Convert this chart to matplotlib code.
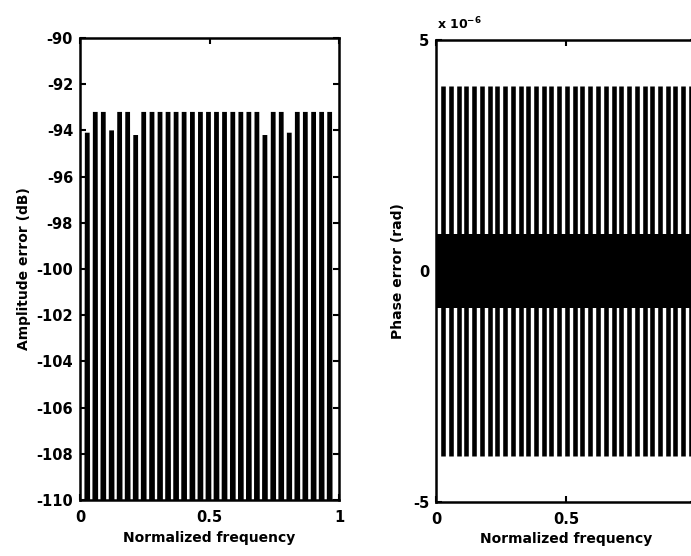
import matplotlib
matplotlib.use("Agg")
import matplotlib.pyplot as plt

plt.rcParams["font.family"] = ["DejaVu Sans"]
plt.rcParams["font.weight"] = "bold"
plt.rcParams["axes.unicode_minus"] = False

# Amplitude error: ripple lobes (centre frequency, peak level in dB)
amp_freq = [0.028, 0.059, 0.090, 0.122, 0.153, 0.184, 0.215, 0.246, 0.278,
            0.309, 0.340, 0.371, 0.402, 0.434, 0.465, 0.496, 0.527, 0.558,
            0.590, 0.621, 0.652, 0.683, 0.714, 0.746, 0.777, 0.808, 0.839,
            0.870, 0.902, 0.933, 0.964]
amp_peak = [-94.1, -93.2, -93.2, -94.0, -93.2, -93.2, -94.2, -93.2, -93.2,
            -93.2, -93.2, -93.2, -93.2, -93.2, -93.2, -93.2, -93.2, -93.2,
            -93.2, -93.2, -93.2, -93.2, -94.2, -93.2, -93.2, -94.1, -93.2,
            -93.2, -93.2, -93.2, -93.2]
amp_null = -130.0

# Phase error: ripple lobes (centre frequency, upper and lower extremes)
ph_freq = [0.027, 0.057, 0.087, 0.116, 0.146, 0.176, 0.206, 0.236, 0.265,
           0.295, 0.325, 0.355, 0.385, 0.414, 0.444, 0.474, 0.504, 0.534,
           0.563, 0.593, 0.623, 0.653, 0.683, 0.712, 0.742, 0.772, 0.802,
           0.832, 0.861, 0.891, 0.921, 0.951, 0.981]
ph_max = [4.0e-6] * len(ph_freq)
ph_min = [-4.0e-6] * len(ph_freq)
ph_band = [0.0, 1.0]          # frequency span of the dense core
ph_band_level = 0.8e-6        # half-height of the dense core

amp_ticks = [-110, -108, -106, -104, -102, -100, -98, -96, -94, -92, -90]
x_ticks = [0, 0.5, 1]
x_tick_labels = ["0", "0.5", "1"]
ph_ticks = [-5e-6, 0, 5e-6]
ph_tick_labels = ["-5", "0", "5"]

W, H = 691, 556
fig = plt.figure(figsize=(W / 100, H / 100), dpi=100)

ax1 = fig.add_axes([80 / W, 1 - 500 / H, 259 / W, 462 / H])
ax2 = fig.add_axes([436 / W, 1 - 502 / H, 260 / W, 462 / H])

HALF_TOP = 0.0092
HALF_BOT = 0.0132
for f, p in zip(amp_freq, amp_peak):
    ax1.fill([f - HALF_BOT, f - HALF_TOP, f + HALF_TOP, f + HALF_BOT],
             [amp_null, p, p, amp_null], color="black", lw=0)

ax1.set_xlim(0, 1)
ax1.set_ylim(-110, -90)
ax1.set_yticks(amp_ticks)
ax1.set_yticklabels([str(t) for t in amp_ticks])
ax1.set_ylabel("Amplitude error (dB)", fontsize=10, fontweight="bold")
ax1.yaxis.set_label_coords(-0.19, 0.5)
ax1.xaxis.set_label_coords(0.5, -0.068)

ax2.fill_between(ph_band, [-ph_band_level] * 2, [ph_band_level] * 2,
                 color="black", lw=0)
ax2.vlines(ph_freq, ph_min, ph_max, color="black", lw=3.3)
ax2.set_xlim(0, 1)
ax2.set_ylim(-5e-6, 5e-6)
ax2.set_yticks(ph_ticks)
ax2.set_yticklabels(ph_tick_labels)
ax2.set_ylabel("Phase error (rad)", fontsize=10, fontweight="bold")
ax2.yaxis.set_label_coords(-0.118, 0.5)
ax2.xaxis.set_label_coords(0.5, -0.064)
ax2.text(0.005, 1.016, "x 10$^{\\mathbf{-6}}$", transform=ax2.transAxes,
         fontsize=9, fontweight="bold", ha="left", va="bottom")

for ax in (ax1, ax2):
    ax.set_xticks(x_ticks)
    ax.set_xticklabels(x_tick_labels)
    ax.set_xlabel("Normalized frequency", fontsize=10, fontweight="bold")
    ax.tick_params(direction="in", length=4, width=1.5, top=True, right=True,
                   labelsize=10.5)
    ax.tick_params(axis="x", pad=7)
    ax.tick_params(axis="y", pad=5)
    for lbl in ax.get_xticklabels() + ax.get_yticklabels():
        lbl.set_fontweight("bold")
    for s in ax.spines.values():
        s.set_linewidth(1.8)

fig.savefig("out.png", dpi=100)
